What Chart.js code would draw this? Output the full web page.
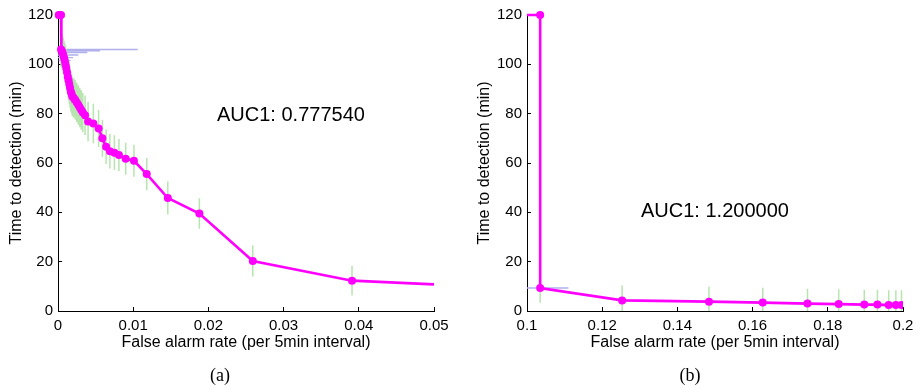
<!DOCTYPE html>
<html>
<head>
<meta charset="utf-8">
<script src="https://cdn.jsdelivr.net/npm/chart.js@4"></script>
<style>
  html, body { margin:0; padding:0; background:#fff; }
  body { width:921px; height:389px; position:relative; overflow:hidden; font-family:"Liberation Sans", Arial, sans-serif; }
  canvas { position:absolute; top:0; }
  #c1 { left:0; }
  #c2 { left:460px; }
  .auc { position:absolute; font-size:20px; line-height:20px; color:#000; white-space:nowrap; }
  .cap { position:absolute; font-family:"Liberation Serif", "DejaVu Serif", serif; font-size:18px; line-height:20px; color:#000; transform:translateX(-50%); }
</style>
</head>
<body>
<canvas id="c1" width="460" height="389"></canvas>
<canvas id="c2" width="461" height="389"></canvas>
<div class="auc" style="left:217px; top:104px;">AUC1: 0.777540</div>
<div class="auc" style="left:641px; top:200px;">AUC1: 1.200000</div>
<div class="cap" style="left:220px; top:365px;">(a)</div>
<div class="cap" style="left:690px; top:365px;">(b)</div>
<script>
// ---------- Panel (a) data ----------
const aX = [0.0001, 0.0004, 0.0004, 0.0005, 0.0006, 0.0007, 0.0008, 0.0009, 0.0010, 0.0011, 0.0012, 0.0013,
            0.0014, 0.0015, 0.0016, 0.0017, 0.0018, 0.0019, 0.0021, 0.0023, 0.0025, 0.0027, 0.0029, 0.0031,
            0.0033, 0.0036, 0.0040, 0.0047, 0.0054, 0.0059, 0.0064, 0.0069, 0.0075, 0.0081,
            0.0090, 0.0101, 0.0118, 0.0146, 0.0188, 0.0259, 0.0391, 0.0500];
const aY = [120, 120, 106.0, 105.5, 104.8, 103.8, 102.7, 101.5, 100.0, 98.5, 96.8, 95.0,
            93.5, 92.0, 90.5, 89.0, 88.2, 87.0, 86.4, 85.5, 84.5, 83.5, 82.5, 81.5,
            80.5, 79.4, 76.8, 76.0, 74.0, 70.0, 66.6, 64.8, 64.2, 63.2,
            61.7, 60.9, 55.5, 45.8, 39.5, 20.3, 12.3, 10.8];
const aYErr = [null, null, 7, 7, 7, 7, 7, 7, 7.5, 7.5, 7.5, 7.5,
               8, 8, 8, 8, 8, 8, 8, 8, 8, 8, 8, 8,
               8, 8, 8, 8, 7.5, 7.5, 7, 7, 7, 6.5,
               6.5, 6.5, 6.5, 6.7, 6.2, 6.3, 6.0, null];
const aXErr = [null, null, 0.0102, 0.0051, 0.0033, 0.0020, 0.0012, 0.0008, null, null, null, null,
               null, null, null, null, null, null, null, null, null, null, null, null,
               null, null, null, null, null, null, null, null, null, null,
               null, null, null, null, null, null, null, null];
const aXTicks = [0, 0.01, 0.02, 0.03, 0.04, 0.05];

// ---------- Panel (b) data ----------
const bX = [0.0900, 0.1035, 0.1035, 0.1253, 0.1484, 0.1627, 0.1746, 0.1829, 0.1897, 0.1932, 0.1962, 0.1981, 0.1996];
const bY = [120, 120, 9.3, 4.3, 3.8, 3.4, 3.0, 2.8, 2.6, 2.6, 2.4, 2.4, 2.4];
const bYErr = [null, null, 6, 6, 6, 6, 6, 6, 6, 6, 6, 6, 6];
const bXErr = [null, null, 0.0075, null, null, null, null, null, null, null, null, null, null];
const bXTicks = [0.1, 0.12, 0.14, 0.16, 0.18, 0.2];

const yTicks = [0, 20, 40, 60, 80, 100, 120];

const MAGENTA = '#ff00ff';
const GREEN = '#b8e4b0';
const BLUE = '#b0b0ec';
const FONT = '"Liberation Sans", Arial, Helvetica, sans-serif';

function pts(xs, ys) { return xs.map((x, i) => ({ x: x, y: ys[i] })); }
function vBars(xs, ys, es) {
  const d = [];
  xs.forEach((x, i) => { if (es[i] == null) return;
    d.push({ x: x, y: ys[i] - es[i] }, { x: x, y: ys[i] + es[i] }, { x: x, y: null }); });
  return d;
}
function hBars(xs, ys, es) {
  const d = [];
  xs.forEach((x, i) => { if (es[i] == null) return;
    d.push({ x: x - es[i], y: ys[i] }, { x: x + es[i], y: ys[i] }, { x: null, y: null }); });
  return d;
}
function fmt(v) { return String(+(+v).toFixed(4)); }

function makeChart(id, xs, ys, yErr, xErr, xTicks, xmin, xmax, padRight, yWidth, yTitlePad, clipLeft, lastHidden) {
  const radii = xs.map((x, i) => (lastHidden && i === xs.length - 1) ? 0 : 4);
  return new Chart(document.getElementById(id), {
    type: 'line',
    data: {
      datasets: [
        { data: pts(xs, ys), borderColor: MAGENTA, backgroundColor: MAGENTA, borderWidth: 2.6,
          pointRadius: radii, pointBorderWidth: 0, pointBackgroundColor: MAGENTA, tension: 0, order: 0,
          clip: { left: clipLeft, top: 8, right: 0, bottom: 0 } },
        { data: vBars(xs, ys, yErr), borderColor: GREEN, borderWidth: 1.5, pointRadius: 0, spanGaps: false, clip: 0, order: 1 },
        { data: hBars(xs, ys, xErr), borderColor: BLUE, borderWidth: 1.4, pointRadius: 0, spanGaps: false, clip: 0, order: 2 }
      ]
    },
    options: {
      responsive: false, animation: false, events: [],
      plugins: { legend: { display: false }, tooltip: { enabled: false } },
      layout: { padding: { left: 0, top: 15, right: padRight, bottom: 0 } },
      scales: {
        x: {
          type: 'linear', min: xmin, max: xmax,
          afterBuildTicks: s => { s.ticks = xTicks.map(v => ({ value: v })); },
          ticks: { callback: v => fmt(v), color: '#000', font: { family: FONT, size: 15 }, padding: 10, maxRotation: 0, autoSkip: false },
          grid: { drawOnChartArea: false, tickLength: -4, color: '#000', lineWidth: 1 },
          border: { color: '#000', width: 1 },
          title: { display: true, text: 'False alarm rate (per 5min interval)', color: '#000',
                   font: { family: FONT, size: 16 }, padding: { top: 0, bottom: 37 } },
          afterFit: s => { s.height = 78; s.paddingLeft = 0; s.paddingRight = 0; }
        },
        y: {
          type: 'linear', min: 0, max: 120,
          afterBuildTicks: s => { s.ticks = yTicks.map(v => ({ value: v })); },
          ticks: { callback: v => fmt(v), color: '#000', font: { family: FONT, size: 15 }, padding: 9, autoSkip: false },
          grid: { drawOnChartArea: false, tickLength: -4, color: '#000', lineWidth: 1 },
          border: { color: '#000', width: 1 },
          title: { display: true, text: 'Time to detection (min)', color: '#000',
                   font: { family: FONT, size: 16 }, padding: { top: yTitlePad, bottom: 0 } },
          afterFit: s => { s.width = yWidth; s.paddingTop = 0; s.paddingBottom = 0; }
        }
      }
    }
  });
}

makeChart('c1', aX, aY, aYErr, aXErr, aXTicks, 0, 0.05, 26, 58, 7, 6, true);
makeChart('c2', bX, bY, bYErr, bXErr, bXTicks, 0.1, 0.2, 18, 67, 15, 0, false);
</script>
</body>
</html>
